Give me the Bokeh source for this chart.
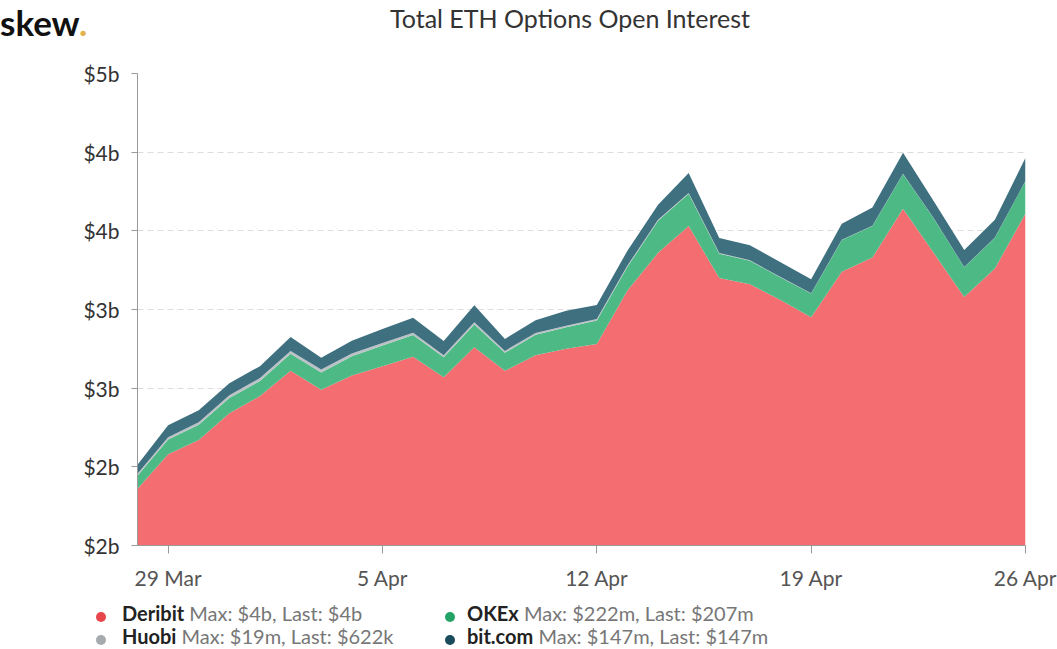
import pandas as pd
from bokeh.plotting import figure
from bokeh.models import ColumnDataSource, FixedTicker, Range1d, Div
from bokeh.layouts import column
from bokeh.embed import file_html
from bokeh.resources import INLINE

# ---------------- data (USD billions) ----------------
dates = pd.date_range("2021-03-28", "2021-04-26", freq="D")

deribit = [1.86, 2.08, 2.17, 2.34, 2.45, 2.61, 2.49, 2.58, 2.64, 2.70,
           2.57, 2.76, 2.61, 2.71, 2.75, 2.78, 3.12, 3.36, 3.53, 3.20,
           3.16, 3.06, 2.95, 3.24, 3.33, 3.64, 3.36, 3.08, 3.26, 3.61]
okex = [0.084, 0.093, 0.098, 0.098, 0.096, 0.108, 0.110, 0.123, 0.131, 0.138,
        0.126, 0.145, 0.115, 0.129, 0.137, 0.150, 0.151, 0.204, 0.205, 0.155,
        0.150, 0.143, 0.151, 0.201, 0.201, 0.222, 0.220, 0.189, 0.196, 0.207]
huobi = [0.012, 0.015, 0.016, 0.017, 0.018, 0.019, 0.018, 0.017, 0.016, 0.015,
         0.014, 0.014, 0.012, 0.011, 0.010, 0.009, 0.008, 0.006, 0.005, 0.004,
         0.003, 0.003, 0.002, 0.002, 0.002, 0.001, 0.001, 0.001, 0.001, 0.0006]
bitcom = [0.057, 0.076, 0.076, 0.076, 0.076, 0.089, 0.076, 0.082, 0.089, 0.095,
          0.089, 0.108, 0.076, 0.082, 0.095, 0.089, 0.095, 0.095, 0.127, 0.095,
          0.095, 0.095, 0.089, 0.102, 0.115, 0.134, 0.108, 0.108, 0.114, 0.147]

y_ticks = [1.5, 2.0, 2.5, 3.0, 3.5, 4.0, 4.5]
y_tick_labels = ["$2b", "$2b", "$3b", "$3b", "$4b", "$4b", "$5b"]
x_tick_dates = ["2021-03-29", "2021-04-05", "2021-04-12", "2021-04-19", "2021-04-26"]
x_tick_labels = ["29 Mar", "5 Apr", "12 Apr", "19 Apr", "26 Apr"]

legend_names = ["Deribit", "Huobi", "OKEx", "bit.com"]
legend_stats = ["Max: $4b, Last: $4b", "Max: $19m, Last: $622k",
                "Max: $222m, Last: $207m", "Max: $147m, Last: $147m"]

title_text = "Total ETH Options Open Interest"
logo_text = "skew"

# ---------------- styles ----------------
FONT = "Lato"
W = 1057
area_colors = ["#f46e71", "#4dba86", "#bcc1c5", "#3f7080"]   # deribit, okex, huobi, bit.com
dot_colors = ["#e8464b", "#a4aaae", "#23a466", "#1a4b5c"]     # legend order

# ---------------- header ----------------
HH = 55
header_html = (
    f'<div style="position:relative;width:{W}px;height:{HH}px;font-family:{FONT};">'
    f'<span style="position:absolute;left:0px;top:1px;font-size:35px;line-height:normal;'
    f'font-weight:bold;color:#111111;white-space:nowrap;">{logo_text}'
    f'<span style="color:#e5b14d;">.</span></span>'
    f'<span style="position:absolute;left:570px;top:6px;transform:translateX(-50%);'
    f'font-size:25px;line-height:25px;color:#333333;white-space:nowrap;">{title_text}</span>'
    f'</div>'
)
header = Div(text=header_html, width=W, height=HH, margin=0)

# ---------------- main chart ----------------
src = ColumnDataSource(dict(date=dates, deribit=deribit, okex=okex, huobi=huobi, bitcom=bitcom))

MH = 543
p = figure(width=W, height=MH, x_axis_type="datetime",
           x_range=Range1d(dates[0], dates[-1]), y_range=Range1d(y_ticks[0], y_ticks[-1]),
           toolbar_location=None, output_backend="svg",
           min_border_left=137, min_border_right=32, min_border_top=18, min_border_bottom=53,
           margin=0)
p.outline_line_color = None

p.varea_stack(stackers=["deribit", "okex", "huobi", "bitcom"], x="date",
              color=area_colors, source=src)

p.yaxis.ticker = FixedTicker(ticks=y_ticks)
p.yaxis.major_label_overrides = {t: l for t, l in zip(y_ticks, y_tick_labels)}
p.yaxis.axis_line_color = "#999999"
p.yaxis.major_tick_line_color = "#999999"
p.yaxis.major_tick_out = 6
p.yaxis.major_tick_in = 0
p.yaxis.minor_tick_line_color = None
p.yaxis.major_label_standoff = 12
p.yaxis.major_label_text_font = FONT
p.yaxis.major_label_text_font_size = "21px"
p.yaxis.major_label_text_color = "#333333"

x_ticks_ms = [int(pd.Timestamp(d).value // 10**6) for d in x_tick_dates]
p.xaxis.ticker = FixedTicker(ticks=x_ticks_ms)
p.xaxis.major_label_overrides = {t: l for t, l in zip(x_ticks_ms, x_tick_labels)}
p.xaxis.axis_line_color = "#999999"
p.xaxis.major_tick_line_color = "#999999"
p.xaxis.major_tick_out = 8
p.xaxis.major_tick_in = 0
p.xaxis.minor_tick_line_color = None
p.xaxis.major_label_standoff = 11
p.xaxis.major_label_text_font = FONT
p.xaxis.major_label_text_font_size = "21px"
p.xaxis.major_label_text_color = "#555555"

p.xgrid.visible = False
p.ygrid.ticker = FixedTicker(ticks=y_ticks)
p.ygrid.grid_line_color = "#dddddd"
p.ygrid.grid_line_dash = "6 4"
p.ygrid.grid_line_width = 1

# ---------------- legend ----------------
LH = 51
dot_x = [101, 101, 450, 450]
text_x = [122, 122, 467, 467]
row_top = [5, 28, 5, 28]
items = []
for i in range(4):
    items.append(
        f'<span style="position:absolute;left:{dot_x[i] - 5}px;top:{row_top[i] + 9}px;'
        f'width:10px;height:10px;border-radius:5px;background:{dot_colors[i]};"></span>'
        f'<span style="position:absolute;left:{text_x[i]}px;top:{row_top[i]}px;'
        f'font-size:20px;line-height:20px;white-space:nowrap;">'
        f'<b style="color:#222222;">{legend_names[i]}</b> '
        f'<span style="color:#777777;">{legend_stats[i]}</span></span>'
    )
legend_html = (f'<div style="position:relative;width:{W}px;height:{LH}px;font-family:{FONT};">'
               + "".join(items) + '</div>')
legend = Div(text=legend_html, width=W, height=LH, margin=0)

layout = column(header, p, legend, spacing=0)
open("out.html", "w").write(file_html(layout, INLINE))
